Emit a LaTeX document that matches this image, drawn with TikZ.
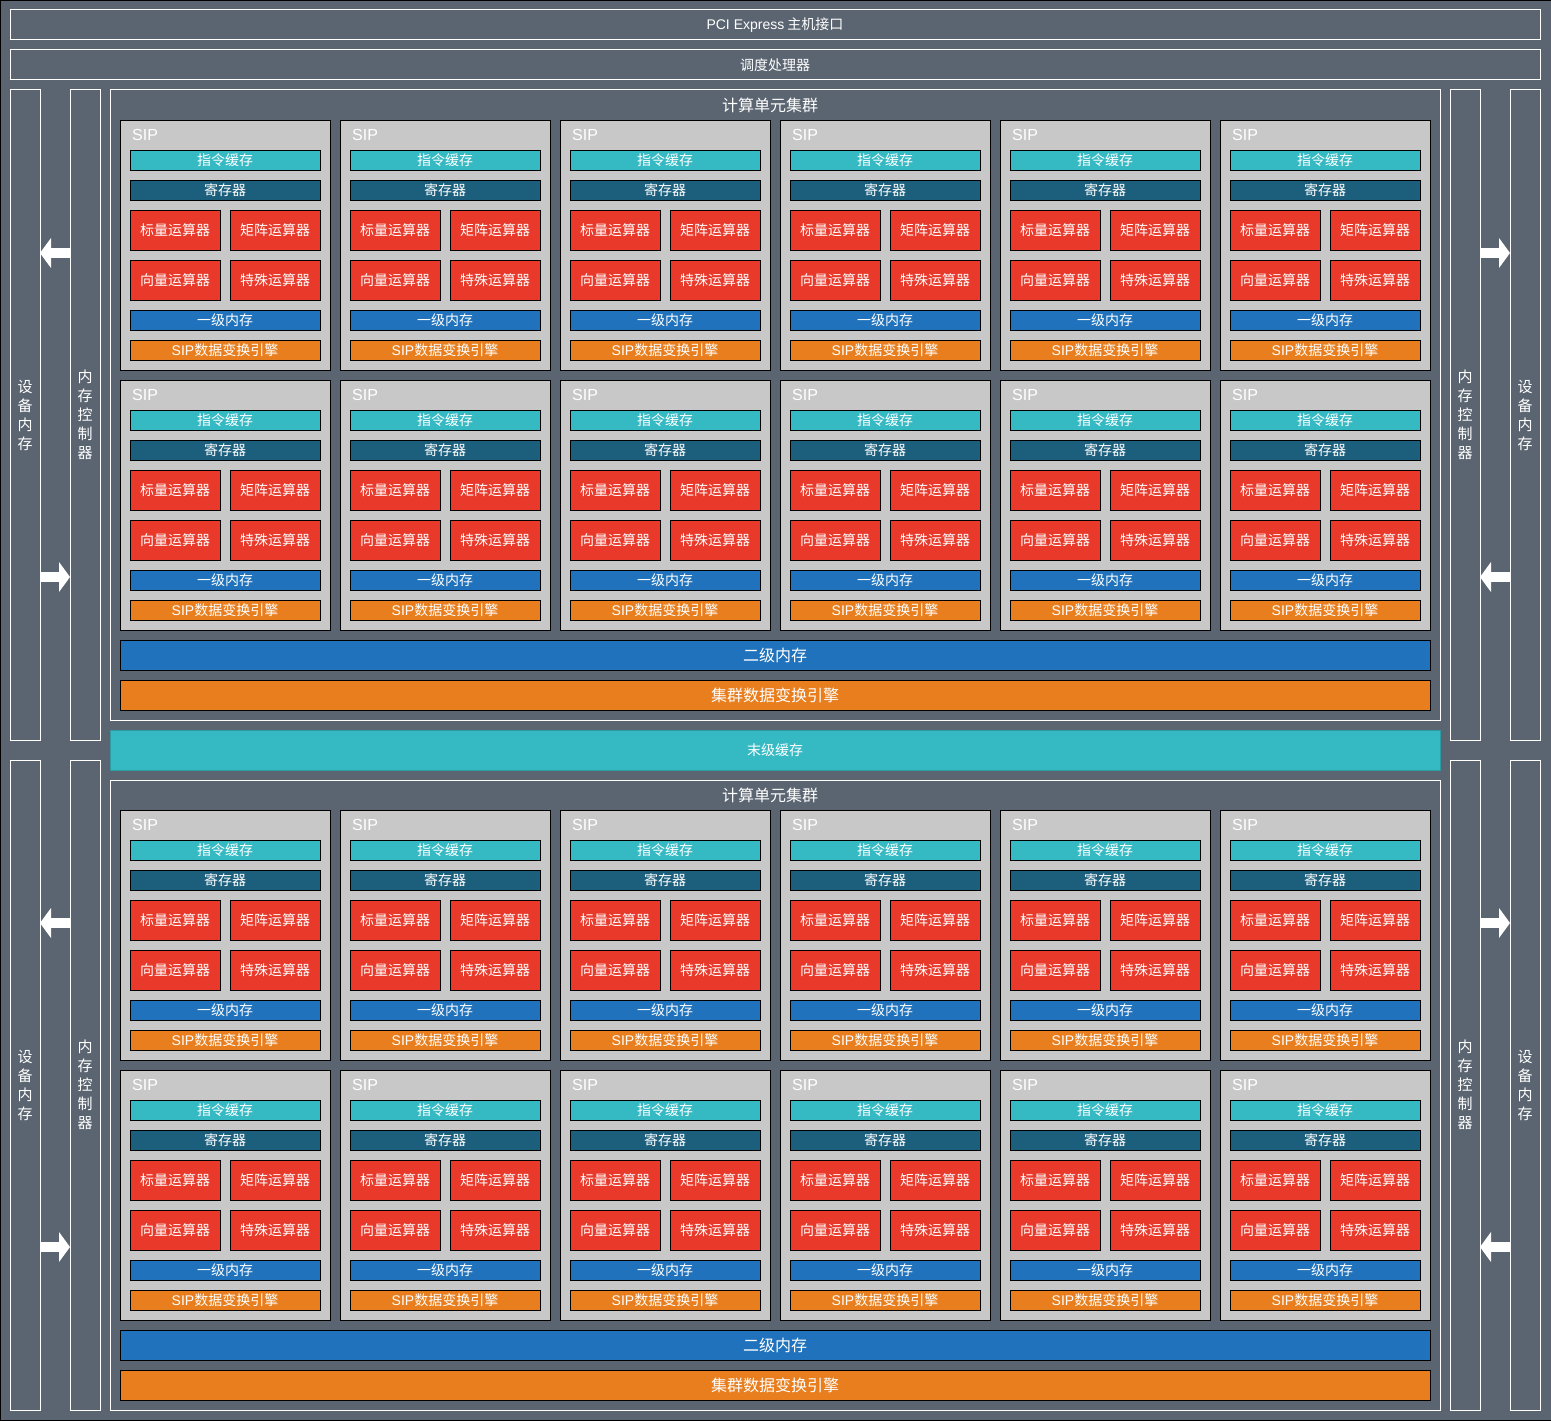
\documentclass[tikz,border=0pt]{standalone}
\usepackage{fontspec}
\setmainfont{Noto Sans CJK SC}
\newfontfamily\latinsf{Liberation Sans}
\usetikzlibrary{arrows.meta}

\definecolor{bgslate}{HTML}{5B6571}
\definecolor{sipgray}{HTML}{C8C8C8}
\definecolor{cacheteal}{HTML}{35B9C3}
\definecolor{regblue}{HTML}{1C5F7D}
\definecolor{alured}{HTML}{E8392A}
\definecolor{memblue}{HTML}{1F72BB}
\definecolor{engorange}{HTML}{E87E1E}
\definecolor{llcedge}{HTML}{2E9BA3}

\tikzset{
  frame/.style={draw=white, line width=1pt, inner sep=0pt, outer sep=0pt, text=white,
    font=\fontsize{14pt}{16pt}\selectfont},
  column/.style={frame, minimum width=30pt, minimum height=650pt, align=center,
    font=\fontsize{15pt}{19pt}\selectfont},
  sipbox/.style={draw=black, fill=sipgray, line width=1pt, minimum width=210pt, minimum height=250pt},
  siplabel/.style={anchor=west, inner sep=0pt, text=white, font=\latinsf\fontsize{16pt}{16pt}\selectfont},
  bar/.style={draw=black, line width=1pt, inner sep=0pt, text=white, minimum width=190pt,
    minimum height=20pt, font=\fontsize{14pt}{16pt}\selectfont},
  alu/.style={bar, fill=alured, minimum width=90pt, minimum height=40pt},
  bigbar/.style={bar, minimum width=1310pt, minimum height=30pt, font=\fontsize{16pt}{18pt}\selectfont},
  clutitle/.style={inner sep=0pt, text=white, font=\fontsize{16pt}{18pt}\selectfont},
  blockarrow/.style={draw=white, line width=10pt, -{Triangle[width=30pt,length=11pt,line width=0pt]}}
}

\newcommand{\sipunit}[3]{%
  \node[sipbox] (#3) at (#1+105,#2+125) {};
  \node[siplabel] (#3-lbl) at (#1+12,#2+15) {SIP};
  \node[bar, fill=cacheteal] (#3-ic) at (#1+105,#2+40) {指令缓存};
  \node[bar, fill=regblue] (#3-rf) at (#1+105,#2+70) {寄存器};
  \node[alu] (#3-sc) at (#1+55,#2+110) {标量运算器};
  \node[alu] (#3-mx) at (#1+155,#2+110) {矩阵运算器};
  \node[alu] (#3-vc) at (#1+55,#2+160) {向量运算器};
  \node[alu] (#3-sp) at (#1+155,#2+160) {特殊运算器};
  \node[bar, fill=memblue] (#3-l1) at (#1+105,#2+200) {一级内存};
  \node[bar, fill=engorange] (#3-eng) at (#1+105,#2+230) {{\latinsf SIP}数据变换引擎};
}

\begin{document}
\begin{tikzpicture}[x=1pt,y=-1pt]
\fill[bgslate] (0,0) rectangle (1551,1421);
\useasboundingbox (0,0) rectangle (1551,1421);
\draw[black, line width=1pt] (1551,0.5) -- (0.5,0.5) -- (0.5,1420.5) -- (1551,1420.5);

\node[frame, minimum width=1530pt, minimum height=30pt] (pcie) at (775,25) {{\latinsf PCI Express} 主机接口};
\node[frame, minimum width=1530pt, minimum height=30pt] (sched) at (775,65) {调度处理器};
\node[bar, fill=cacheteal, draw=llcedge, minimum width=1330pt, minimum height=40pt] (llc) at (775,750) {末级缓存};

\foreach \h/\cy in {a/0,b/670}{
  \node[column] (dmL\h) at (25,415+\cy) {设\\备\\内\\存};
  \node[column] (mcL\h) at (85,415+\cy) {内\\存\\控\\制\\器};
  \node[column] (mcR\h) at (1465,415+\cy) {内\\存\\控\\制\\器};
  \node[column] (dmR\h) at (1525,415+\cy) {设\\备\\内\\存};
  \draw[blockarrow] ([yshift=-163pt]mcL\h.north west) -- ([yshift=-163pt]dmL\h.north east);
  \draw[blockarrow] ([yshift=163pt]dmL\h.south east) -- ([yshift=163pt]mcL\h.south west);
  \draw[blockarrow] ([yshift=-163pt]mcR\h.north east) -- ([yshift=-163pt]dmR\h.north west);
  \draw[blockarrow] ([yshift=163pt]dmR\h.south west) -- ([yshift=163pt]mcR\h.south east);
}

\foreach \c/\cy in {a/0,b/690}{
  \node[frame, minimum width=1330pt, minimum height=630pt] (clu\c) at (775,405+\cy) {};
  \node[clutitle] (clu\c-title) at (770,105+\cy) {计算单元集群};
  \foreach \r in {0,1}{
    \foreach \i in {0,...,5}{
      \pgfmathsetmacro\sx{120+220*\i}
      \pgfmathsetmacro\sy{120+260*\r+\cy}
      \sipunit{\sx}{\sy}{sip\c\r\i}
    }
  }
  \node[bigbar, fill=memblue] (l2\c) at (775,655+\cy) {二级内存};
  \node[bigbar, fill=engorange] (ceng\c) at (775,695+\cy) {集群数据变换引擎};
}
\end{tikzpicture}
\end{document}
